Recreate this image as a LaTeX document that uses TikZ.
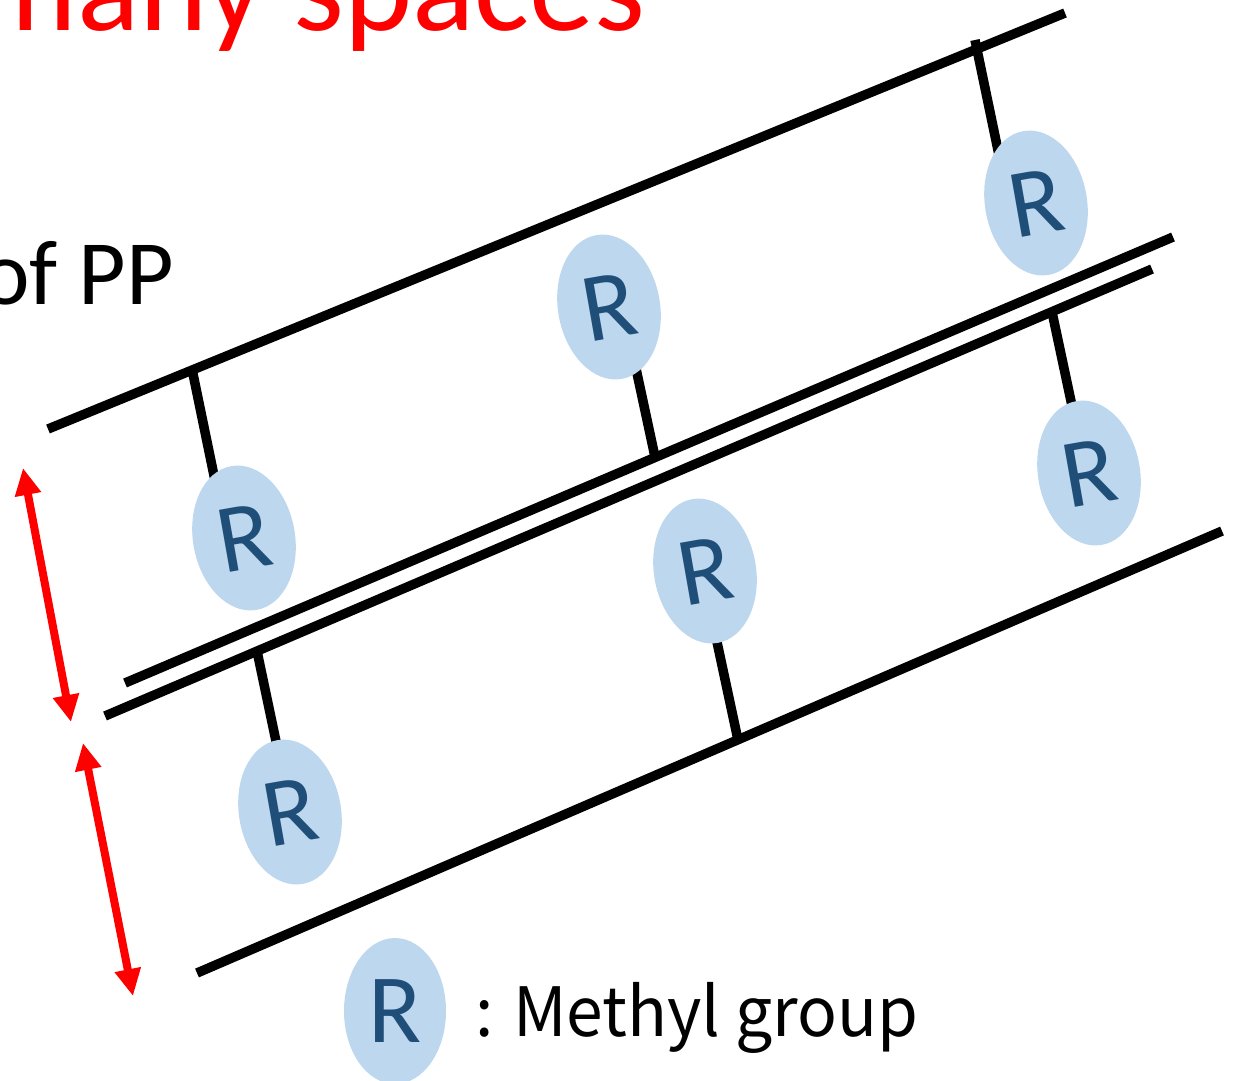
\documentclass[tikz,border=0pt]{standalone}
\usepackage{fontspec}
\setmainfont{Carlito}
\newfontfamily\gothic{Noto Sans CJK JP}
\usetikzlibrary{arrows.meta,shapes.geometric}
\definecolor{methylfill}{HTML}{BDD7EE}
\definecolor{methylink}{HTML}{1F4E79}

\begin{document}
\begin{tikzpicture}[x=1pt,y=-1pt,
  chain/.style={line width=9.5pt,black},
  bond/.style={line width=9.5pt,black},
  methyl/.style={ellipse,fill=methylfill,minimum width=102pt,minimum height=146pt,
    inner sep=0pt,text=methylink,font=\fontsize{98}{98}\selectfont},
  gap/.style={line width=8pt,red,
    {Triangle[length=27pt,width=25pt]}-{Triangle[length=27pt,width=25pt]}}
]
\useasboundingbox (0,0) rectangle (1238,1080);

% end points of the four backbone segments
\coordinate (c1s) at (48,429);   \coordinate (c1e) at (1065,13);
\coordinate (c2s) at (125,683);  \coordinate (c2e) at (1173,237);
\coordinate (c3s) at (105,716);  \coordinate (c3e) at (1152,269);
\coordinate (c4s) at (197,973);  \coordinate (c4e) at (1222,531);

% backbones
\draw[chain] (c1s) -- (c1e);
\draw[chain] (c2s) -- (c2e);
\draw[chain] (c3s) -- (c3e);
\draw[chain] (c4s) -- (c4e);

% bond roots on the backbones and their ends under the methyl groups
\coordinate (b1) at (192,369);  \coordinate (e1) at (218,495);
\coordinate (b2) at (655,457);  \coordinate (e2) at (632,350);
\coordinate (b3) at (975,40);   \coordinate (e3) at (1000,160);
\coordinate (b4) at (257,651);  \coordinate (e4) at (281,765);
\coordinate (b5) at (738,740);  \coordinate (e5) at (714,628);
\coordinate (b6) at (1052,312); \coordinate (e6) at (1075,420);

\foreach \i in {1,...,6} \draw[bond] (b\i) -- (e\i);

% methyl groups
\node[methyl,rotate=10] (r1) at (244,538) {R};
\node[methyl,rotate=10] (r2) at (609,307) {R};
\node[methyl,rotate=10] (r3) at (1036,203) {R};
\node[methyl,rotate=10] (r4) at (290,812) {R};
\node[methyl,rotate=10] (r5) at (705,571) {R};
\node[methyl,rotate=10] (r6) at (1089,473) {R};

% spacing arrows
\coordinate (a1s) at (23,468);  \coordinate (a1e) at (71,722);
\coordinate (a2s) at (83,743);  \coordinate (a2e) at (133,996);
\draw[gap] (a1s) -- (a1e);
\draw[gap] (a2s) -- (a2e);

% texts
\node[anchor=base west,inner sep=0pt,text=red,font=\fontsize{130}{130}\selectfont]
  (title) at (-27,30) {many spaces};
\node[anchor=base west,inner sep=0pt,font=\fontsize{92}{92}\selectfont]
  (pp) at (-19,304) {of PP};

% legend
\node[methyl] (key) at (395,1011) {R};
\node[anchor=base west,inner sep=0pt,font=\gothic\fontsize{68}{68}\selectfont,
  xscale=0.97] (keytext) at (475,1036) {: Methyl group};
\end{tikzpicture}
\end{document}
